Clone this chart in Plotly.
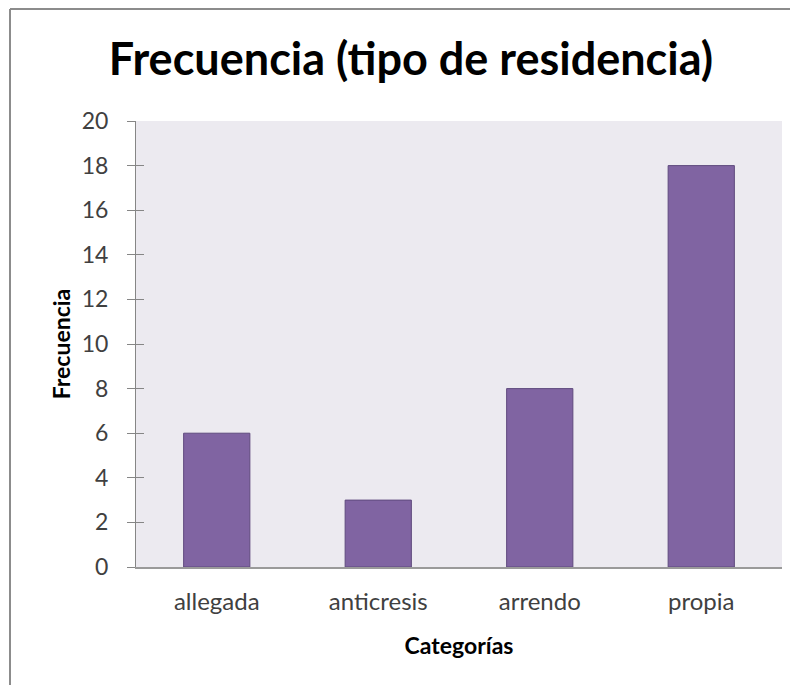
import plotly.graph_objects as go

categories = ["allegada", "anticresis", "arrendo", "propia"]
values = [6, 3, 8, 18]
y_ticks = list(range(0, 21, 2))

FONT = "Lato"
W, H = 790, 677
L, R, T, B = 128, 16, 113, 118
PW, PH = W - L - R, H - T - B

fig = go.Figure()
fig.add_trace(go.Bar(
    x=categories, y=values,
    marker=dict(color="#8064A2", line=dict(color="#5F4A7E", width=1)),
    width=0.41,
    hoverinfo="x+y",
))
# invisible trace for inside-tick overlay axis
fig.add_trace(go.Scatter(x=categories, y=values, yaxis="y2", mode="markers",
                         marker=dict(opacity=0), showlegend=False, hoverinfo="skip"))

fig.update_layout(
    width=W, height=H,
    margin=dict(l=L, r=R, t=T, b=B),
    paper_bgcolor="white",
    plot_bgcolor="#ECEAF0",
    showlegend=False,
    title=dict(text="<b>Frecuencia (tipo de residencia)</b>",
               x=403 / W, xref="container", xanchor="center",
               y=1 - 51 / H, yref="container", yanchor="middle",
               font=dict(family=FONT, size=45, color="#000000")),
    xaxis=dict(
        showline=True, linecolor="#9A9A9A", linewidth=1.5,
        ticks="", showgrid=False,
        tickfont=dict(family=FONT, size=24, color="#404040"),
        title=dict(text="<b>Categorías</b>", standoff=24,
                   font=dict(family=FONT, size=23, color="#000000")),
        ticklabelstandoff=12,
    ),
    yaxis=dict(
        range=[0, 20], tickvals=y_ticks, showgrid=False, zeroline=False,
        showline=True, linecolor="#868686", linewidth=1,
        ticks="outside", ticklen=8, tickcolor="#868686", tickwidth=1,
        tickfont=dict(family=FONT, size=23, color="#404040"),
        ticklabelstandoff=14,
        title=dict(text="<b>Frecuencia</b>", standoff=4,
                   font=dict(family=FONT, size=23, color="#000000")),
    ),
    yaxis2=dict(
        range=[0, 20], tickvals=y_ticks, overlaying="y", side="left",
        showgrid=False, zeroline=False, showline=False, showticklabels=False,
        ticks="inside", ticklen=8, tickcolor="#868686", tickwidth=1,
    ),
)

# chart-area border (left and top edges visible in the reference)
bx = (2 - L) / PW
by = 1 + (T - 1) / PH
fig.add_shape(type="line", xref="paper", yref="paper",
              x0=bx, x1=bx, y0=-B / PH, y1=by,
              line=dict(color="#8C8C8C", width=2))
fig.add_shape(type="line", xref="paper", yref="paper",
              x0=bx, x1=1 + R / PW, y0=by, y1=by,
              line=dict(color="#8C8C8C", width=2))

fig.write_html("out.html")
